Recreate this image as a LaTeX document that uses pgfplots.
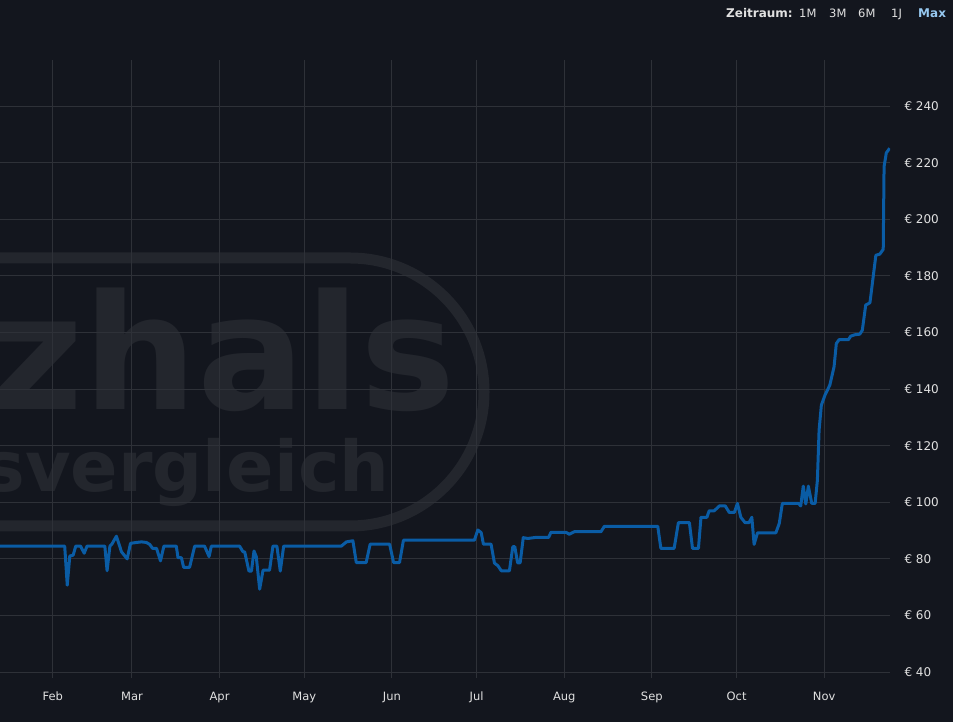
\documentclass[border=0pt]{standalone}
\usepackage{fontspec}
\setmainfont{DejaVu Sans}
\usepackage{pgfplots}
\pgfplotsset{compat=1.18}
\definecolor{bgc}{RGB}{19,22,30}
\definecolor{gridc}{RGB}{46,49,56}
\definecolor{linec}{RGB}{10,92,165}
\definecolor{wm}{RGB}{35,38,45}
\definecolor{lbl}{RGB}{225,225,225}
\definecolor{maxc}{RGB}{150,200,240}
\begin{document}
\begin{tikzpicture}
\useasboundingbox (0,0) rectangle (953pt,722pt);
\fill[bgc] (0,0) rectangle (953pt,722pt);
% watermark
\begin{scope}
\clip (0,0) rectangle (953pt,722pt);
\draw[wm, line width=11pt, rounded corners=134pt] (-600pt,196pt) rectangle (484pt,464pt);
\node[wm, anchor=base east, inner sep=0pt, font=\fontsize{160}{160}\selectfont\bfseries] at (456pt,312pt) {\smash{geizhals}};
\node[wm, anchor=base east, inner sep=0pt, font=\fontsize{70}{70}\selectfont\bfseries] at (390pt,230pt) {\smash{Preisvergleich}};
\end{scope}
\begin{axis}[
  at={(0pt,44pt)}, anchor=south west,
  scale only axis, width=890pt, height=618pt,
  xmin=12.3, xmax=327.3, ymin=37.9, ymax=256.3,
  axis line style={draw=none},
  major tick length=0pt,
  grid=major,
  grid style={color=gridc, line width=1pt},
  xtick={31,59,90,120,151,181,212,243,273,304},
  xticklabels={Feb,Mar,Apr,May,Jun,Jul,Aug,Sep,Oct,Nov},
  xticklabel style={anchor=base, yshift=-23pt, font=\fontsize{11.5}{13}\selectfont, text=lbl},
  ytick={40,60,...,240},
  yticklabel pos=right,
  yticklabel={€ \pgfmathprintnumber{\tick}},
  yticklabel style={anchor=west, xshift=11pt, font=\fontsize{12}{14}\selectfont, text=lbl},
  /pgf/number format/assume math mode=true,
]
\addplot[linec, line width=3pt, line join=round] coordinates {
(12.3,84.5) (35.2,84.5) (36.1,70.7) (37.0,81) (38.2,81.3) (39.1,84.5) (40.8,84.5) (42.1,82) (43.1,84.5)
(49.4,84.5) (50.2,75.8) (51.2,84.5) (51.9,85.2) (53.5,88) (55.3,82.5) (57.3,80) (58.5,85.5) (60.6,85.8)
(62.4,86) (64.1,85.8) (65.3,85.1) (66.3,83.7) (67.7,83.7) (69.1,79.3) (70.3,84.5) (74.7,84.5) (75.3,80.4)
(76.5,80.4) (77.3,77) (79.4,77) (81.2,84.5) (84.7,84.5) (86.3,80.8) (87.1,84.5) (97.1,84.5) (98.3,82.5)
(98.9,82.5) (100.4,75.7) (101.3,75.7) (102.2,82.8) (103.0,80.8) (104.2,69.3) (105.4,76) (107.7,76)
(108.9,84.5) (110.3,84.5) (111.5,75.7) (112.7,84.5) (133.1,84.5) (134.9,86) (137.2,86.4) (138.4,78.7)
(141.9,78.7) (143.3,85.2) (150.2,85.2) (151.6,78.7) (153.7,78.7) (155.1,86.6) (180.2,86.6) (181.4,90.2)
(182.6,89.3) (183.4,85.2) (186.1,85.2) (187.3,78.5) (188.5,77.6) (189.7,75.8) (192.6,75.8) (193.8,84.3)
(194.5,84.3) (195.5,78.6) (196.4,78.6) (197.5,87.5) (199.1,87.2) (202.0,87.6) (206.5,87.6) (207.3,89.4)
(212.6,89.4) (213.8,88.7) (215.6,89.6) (225.0,89.6) (226.2,91.5) (245.1,91.5) (246.2,83.7) (250.9,83.7)
(252.4,92.8) (256.3,92.8) (257.4,83.7) (259.5,83.7) (260.4,94.7) (262.5,94.7) (263.3,97) (265.1,97)
(266.9,98.7) (269.0,98.7) (270.4,96.4) (272.2,96.4) (273.3,99.6) (274.5,94.7) (276.0,92.8) (277.4,92.8)
(278.4,94.7) (279.2,85.1) (280.4,89.2) (286.9,89.2) (288.1,92.5) (289.2,99.6) (294.9,99.6) (295.7,98.7)
(296.6,105.7) (297.5,99.4) (298.4,105.7) (299.6,99.6) (300.8,99.6) (301.6,107.8) (302.2,125.5)
(303.0,134.3) (304.3,137.9) (306.0,141.4) (307.5,147.9) (308.3,156.1) (309.3,157.5) (312.6,157.5)
(313.4,158.7) (314.9,159.2) (316.6,159.4) (317.5,160.8) (318.7,169.7) (320.2,170.5) (322.3,187.3)
(323.7,187.7) (324.9,189.4) (325.2,218.6) (326.0,223.5) (327.2,225.1)
};
\end{axis}
\node[anchor=base west, inner sep=0pt, text=lbl, font=\fontsize{12}{14}\selectfont\bfseries] at (726pt,704pt) {Zeitraum:};
\node[anchor=base west, inner sep=0pt, text=lbl, font=\fontsize{11.5}{13}\selectfont] at (799pt,704pt) {1M};
\node[anchor=base west, inner sep=0pt, text=lbl, font=\fontsize{11.5}{13}\selectfont] at (829pt,704pt) {3M};
\node[anchor=base west, inner sep=0pt, text=lbl, font=\fontsize{11.5}{13}\selectfont] at (858pt,704pt) {6M};
\node[anchor=base west, inner sep=0pt, text=lbl, font=\fontsize{11.5}{13}\selectfont] at (891pt,704pt) {1J};
\node[anchor=base west, inner sep=0pt, text=maxc, font=\fontsize{12}{14}\selectfont\bfseries] at (918pt,704pt) {Max};
\end{tikzpicture}
\end{document}
